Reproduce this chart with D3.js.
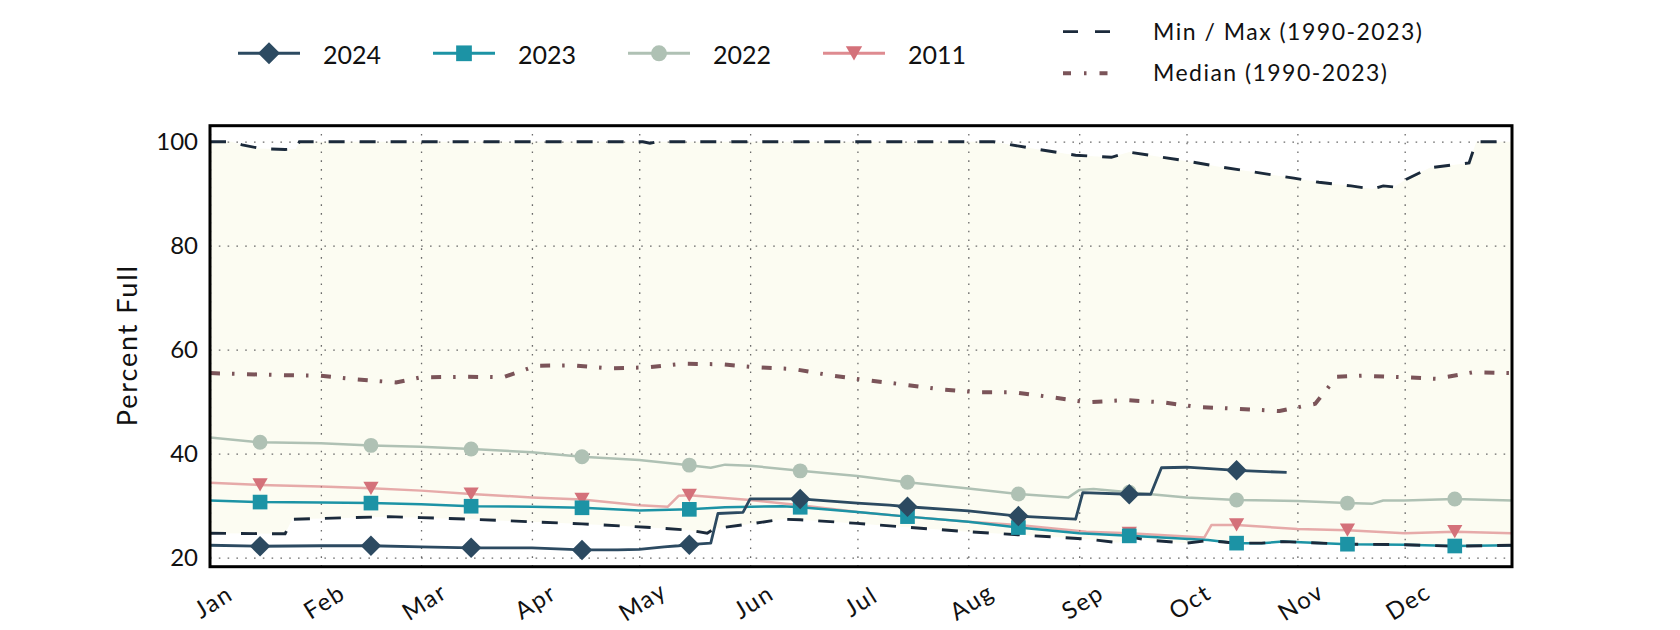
<!DOCTYPE html>
<html><head><meta charset="utf-8">
<script src="https://cdn.jsdelivr.net/npm/d3@7"></script>
<style>
body{margin:0;background:#fff}
svg{display:block}
text{font-family:Lato,"Open Sans",sans-serif;fill:#111}
</style>
</head><body>
<svg id="c" width="1680" height="630"></svg>
<script>
// ---------------- data ----------------
const monthTicks = ["01-01","02-01","03-01","04-01","05-01","06-01","07-01","08-01","09-01","10-01","11-01","12-01"];
const yTicks = [20,40,60,80,100];
const markerDates = ["01-15","02-15","03-15","04-15","05-15","06-15","07-15","08-15","09-15","10-15","11-15","12-15"];

const dates2024 = ["01-01","01-15","02-01","02-15","03-01","03-15","04-01","04-15","04-25","05-01","05-08","05-12","05-15","05-21","05-23","05-30","06-01","06-15","07-01","07-10","07-15","08-01","08-15","08-31","09-02","09-15","09-21","09-24","10-01","10-15","10-29"];
const pct2024 = [22.4,22.2,22.3,22.3,22.1,21.9,21.9,21.5,21.5,21.6,22.1,22.3,22.5,22.8,28.5,28.7,31.3,31.3,30.5,30.1,29.8,29.0,28.0,27.4,32.5,32.2,32.2,37.3,37.4,36.8,36.4];

const dates2023 = ["01-01","01-15","02-01","02-15","03-01","03-15","04-01","04-15","05-01","05-15","05-25","06-10","06-15","07-01","07-15","08-01","08-15","09-01","09-15","10-07","10-15","10-22","10-28","11-15","12-01","12-15","12-31"];
const pct2023 = [31.0,30.7,30.6,30.5,30.3,29.9,29.8,29.6,29.1,29.3,29.7,29.9,29.7,28.8,27.9,26.9,25.8,24.7,24.2,23.4,22.8,22.8,23.1,22.6,22.5,22.25,22.4];

const dates2022 = ["01-01","01-15","02-01","02-15","03-01","03-15","04-01","04-15","05-01","05-15","05-21","05-25","06-01","06-15","07-01","07-15","08-01","08-15","08-29","09-01","09-05","09-15","10-01","10-15","11-01","11-15","11-22","11-25","12-01","12-15","12-31"];
const pct2022 = [43.1,42.2,42.0,41.6,41.35,40.9,40.3,39.4,38.8,37.8,37.3,37.9,37.7,36.7,35.7,34.5,33.3,32.25,31.6,33.0,33.2,32.6,31.6,31.1,30.9,30.5,30.4,31.0,31.0,31.3,31.0];

const dates2011 = ["01-01","01-15","02-01","02-15","03-01","03-15","04-01","04-15","05-01","05-09","05-12","05-15","06-01","06-15","07-01","07-15","08-01","08-15","09-03","09-15","10-06","10-08","10-15","11-01","11-15","12-01","12-15","12-31"];
const pct2011 = [34.4,34.0,33.7,33.35,32.9,32.25,31.6,31.2,30.1,29.8,31.9,32.0,31.1,30.1,28.8,27.9,26.9,26.3,25.0,24.7,23.9,26.3,26.3,25.5,25.3,24.7,25.0,24.7];

const datesMin = ["01-01","01-22","01-24","02-20","03-01","03-15","04-01","04-15","05-03","05-15","05-20","05-22","06-01","06-10","06-15","07-01","07-15","08-01","08-15","09-03","09-12","09-15","09-20","10-01","10-07","10-15","10-22","10-28","11-15","12-01","12-15","12-31"];
const pctMin = [24.7,24.6,27.4,27.9,27.7,27.4,26.9,26.5,25.85,25.3,24.7,25.6,26.5,27.4,27.3,26.6,25.85,25.0,24.4,23.6,22.9,24.0,23.4,22.8,23.3,22.8,22.8,23.1,22.6,22.5,22.2,22.4];

const datesMax = ["01-01","01-07","01-10","01-15","01-22","01-25","01-26","05-02","05-04","05-06","08-08","08-19","08-31","09-10","09-15","09-30","10-11","10-31","11-07","11-16","11-22","11-25","11-28","12-01","12-08","12-19","12-21","12-31"];
const pctMax = [100,100,99.4,98.7,98.5,98.6,100,100,99.7,100,100,98.7,97.4,97.0,98.0,96.4,95.1,93.0,92.2,91.5,90.9,91.5,91.3,92.6,95.0,95.9,100,100];

const datesMed = ["01-01","01-22","02-01","02-11","02-22","03-01","03-14","03-24","03-29","04-02","04-12","04-23","05-03","05-13","05-24","06-03","06-13","06-24","07-03","07-14","07-24","08-04","08-14","08-25","09-03","09-14","09-24","10-04","10-15","10-27","11-03","11-06","11-12","11-19","12-01","12-10","12-20","12-31"];
const pctMed = [55.5,55.1,55.0,54.3,53.7,54.7,54.8,54.7,55.9,56.9,57.0,56.4,56.6,57.3,57.2,56.6,56.3,55.0,54.2,53.3,52.4,51.8,51.8,50.8,49.9,50.3,49.9,49.0,48.65,48.2,49.2,49.6,54.8,55.0,54.7,54.4,55.65,55.5];

const seriesNames = ["2024","2023","2022","2011"];
const refLabels = ["Min / Max (1990-2023)","Median (1990-2023)"];
const yLabel = "Percent Full";

// ---------------- setup ----------------
const parse = s => d3.timeParse("%Y-%m-%d")("2023-" + s);
const zip = (ds, vs) => ds.map((d, i) => ({date: parse(d), key: d, v: vs[i]}));

const L = 210, R = 1512, T = 125.7, B = 566.7;
const x = d3.scaleTime().domain([parse("01-01"), parse("12-31")]).range([L, R]);
const y = d3.scaleLinear().domain([18.27, 103.08]).range([B, T]);

const svg = d3.select("#c");
svg.append("defs").append("clipPath").attr("id","clip")
  .append("rect").attr("x",L).attr("y",T).attr("width",R-L).attr("height",B-T);

const line = d3.line().x(d => x(d.date)).y(d => y(d.v));

const minPts = zip(datesMin, pctMin), maxPts = zip(datesMax, pctMax);

// envelope fill
svg.append("path")
  .attr("clip-path","url(#clip)")
  .attr("d", line(maxPts.concat(minPts.slice().reverse())) + "Z")
  .attr("fill","#fcfcf2");

// grid via axes
const gy = svg.append("g").attr("transform",`translate(${L},0)`)
  .call(d3.axisLeft(y).tickValues(yTicks).tickSize(-(R-L)).tickPadding(12).tickFormat(d3.format("d")));
gy.select(".domain").remove();
gy.selectAll(".tick line").attr("stroke","#6a6a6a").attr("stroke-width",1.3).attr("stroke-dasharray","1.6,7.2");
gy.selectAll(".tick text").attr("font-size",24).attr("font-family","Lato,sans-serif").attr("fill","#111");

const gx = svg.append("g").attr("transform",`translate(0,${B})`)
  .call(d3.axisBottom(x).tickValues(monthTicks.map(parse)).tickSize(-(B-T)).tickFormat(d3.timeFormat("%b")));
gx.select(".domain").remove();
gx.selectAll(".tick line").attr("stroke","#6a6a6a").attr("stroke-width",1.3).attr("stroke-dasharray","1.6,7.2");
gx.selectAll(".tick text")
  .attr("font-size",24).attr("font-family","Lato,sans-serif").attr("fill","#111")
  .attr("letter-spacing","1.6px")
  .attr("y",0).attr("dy","0.35em").attr("text-anchor","middle")
  .attr("transform","translate(3,35) rotate(-32)");

// y label
svg.append("text")
  .attr("transform",`translate(137,${(T+B)/2}) rotate(-90)`)
  .attr("text-anchor","middle").attr("font-size",27)
  .attr("textLength",160).attr("lengthAdjust","spacing")
  .text(yLabel);

// ---------------- series ----------------
const cfg = {
  "2024": {dates: dates2024, vals: pct2024, stroke: "#2c4a61", op: 1, w: 2.8, mark: "#2c4a61", sym: "diamond"},
  "2023": {dates: dates2023, vals: pct2023, stroke: "#1c93a5", op: 1, w: 2.5, mark: "#1c93a5", sym: "square"},
  "2022": {dates: dates2022, vals: pct2022, stroke: "#afc1b4", op: 1, w: 2.5, mark: "#afc1b4", sym: "circle"},
  "2011": {dates: dates2011, vals: pct2011, stroke: "#d8777c", op: 0.62, w: 2.5, mark: "#d4717a", sym: "tri"}
};
const triDown = {draw(ctx, size){ const w = Math.sqrt(size)*1.05, h = w*0.87;
  ctx.moveTo(-w/2,-h/2); ctx.lineTo(w/2,-h/2); ctx.lineTo(0,h/2); ctx.closePath(); }};
function symPath(kind, scale){
  if (kind === "diamond") return d3.symbol(d3.symbolSquare, 210*scale)();
  if (kind === "square") return d3.symbol(d3.symbolSquare, 215*scale)();
  if (kind === "circle") return d3.symbol(d3.symbolCircle, 175*scale)();
  return d3.symbol(triDown, 210*scale)();
}
const symRot = k => k === "diamond" ? " rotate(45)" : "";

const drawOrder = ["2011","2022","2023","2024"];
const gLines = svg.append("g").attr("clip-path","url(#clip)");
drawOrder.forEach(k => {
  const c = cfg[k];
  gLines.append("path").attr("d", line(zip(c.dates, c.vals)))
    .attr("fill","none").attr("stroke",c.stroke).attr("stroke-opacity",c.op)
    .attr("stroke-width",c.w).attr("stroke-linejoin","round");
});

// reference lines
const gRef = svg.append("g").attr("clip-path","url(#clip)");
gRef.append("path").attr("d", line(maxPts)).attr("fill","none")
  .attr("stroke","#1b2a3b").attr("stroke-width",2.9).attr("stroke-dasharray","16,15");
gRef.append("path").attr("d", line(minPts)).attr("fill","none")
  .attr("stroke","#1b2a3b").attr("stroke-width",2.9).attr("stroke-dasharray","16,15");
gRef.append("path").attr("d", line(zip(datesMed, pctMed))).attr("fill","none")
  .attr("stroke","#7b5459").attr("stroke-width",4).attr("stroke-dasharray","10,12,2.5,12.5");

// markers
drawOrder.forEach(k => {
  const c = cfg[k];
  const pts = zip(c.dates, c.vals).filter(p => markerDates.includes(p.key));
  svg.append("g").selectAll("path").data(pts).join("path")
    .attr("d", symPath(c.sym, 1))
    .attr("transform", d => `translate(${x(d.date)},${y(d.v)})${symRot(c.sym)}`)
    .attr("fill", c.mark);
});

// frame
svg.append("rect").attr("x",L).attr("y",T).attr("width",R-L).attr("height",B-T)
  .attr("fill","none").attr("stroke","#000").attr("stroke-width",3);

// ---------------- legend ----------------
const lg = svg.append("g");
seriesNames.forEach((k, i) => {
  const c = cfg[k];
  const x0 = 238 + i*195, yC = 53.3;
  lg.append("line").attr("x1",x0).attr("x2",x0+62).attr("y1",yC).attr("y2",yC)
    .attr("stroke",c.stroke).attr("stroke-opacity",k==="2011"?0.85:1).attr("stroke-width",3);
  lg.append("path").attr("d", symPath(c.sym, 1.15))
    .attr("transform",`translate(${x0+31},${yC})${symRot(c.sym)}`).attr("fill",c.mark);
  lg.append("text").attr("x",x0+85).attr("y",yC+10.5).attr("font-size",25).text(k);
});
const refStyles = [
  {stroke:"#1b2a3b", w:2.8, dash:"15,17"},
  {stroke:"#7b5459", w:4, dash:"8,13,2.5,13"}
];
const refLens = [269, 234];
refLabels.forEach((t, i) => {
  const yC = 31.7 + i*41.6;
  lg.append("line").attr("x1",1063).attr("x2",1112).attr("y1",yC).attr("y2",yC)
    .attr("stroke",refStyles[i].stroke).attr("stroke-width",refStyles[i].w)
    .attr("stroke-dasharray",refStyles[i].dash);
  lg.append("text").attr("x",1153).attr("y",yC+8).attr("font-size",23)
    .attr("textLength",refLens[i]).attr("lengthAdjust","spacing").text(t);
});
</script>
</body></html>
